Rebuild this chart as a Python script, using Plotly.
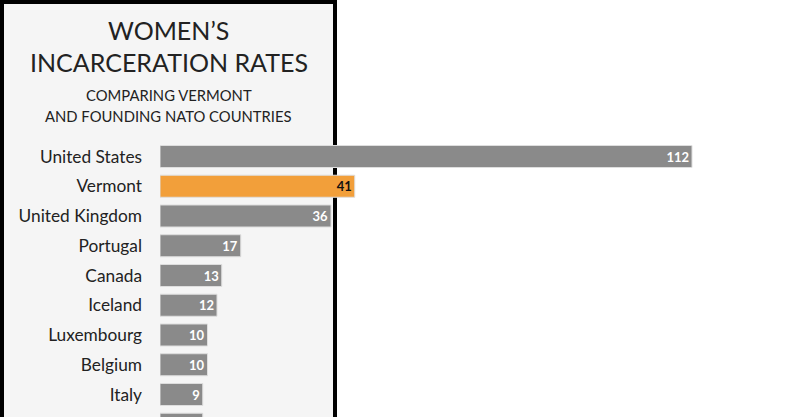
import plotly.graph_objects as go

countries = ["United States", "Vermont", "United Kingdom", "Portugal", "Canada",
             "Iceland", "Luxembourg", "Belgium", "Italy", "Norway"]
rates = [112, 41, 36, 17, 13, 12, 10, 10, 9, 9]

GRAY = "#8a8a8a"
ORANGE = "#f29f3a"
colors = [ORANGE if c == "Vermont" else GRAY for c in countries]
text_colors = ["#111111" if c == "Vermont" else "#ffffff" for c in countries]

W, H = 800, 417
L = 160
px_per_unit = 4.75
row_px = 29.75
first_row_px = 156.5

ypos = list(range(len(countries)))

fig = go.Figure()
fig.add_trace(go.Bar(
    x=rates, y=ypos, orientation="h",
    marker=dict(color=colors, line=dict(color="#dedede", width=1)),
    width=0.74,
    text=[str(r) for r in rates],
    textposition="inside", insidetextanchor="end",
    textangle=0,
    textfont=dict(family="Lato", size=13, color=text_colors, weight="bold"),
    cliponaxis=False,
    hoverinfo="skip",
))

# box panel
def px_to_paper_x(px):
    return (px - L) / (W - L)

fig.add_shape(type="rect", xref="paper", yref="paper",
              x0=px_to_paper_x(2), x1=px_to_paper_x(335),
              y0=-0.2, y1=1 - 2 / H,
              fillcolor="#f5f5f5", line=dict(color="#000000", width=4),
              layer="below")

cx = px_to_paper_x(168.5)
def py(p):
    return 1 - p / H

title_font = dict(family="Lato", size=25, color="#222222")
sub_font = dict(family="Lato", size=14.8, color="#222222")
fig.add_annotation(text="WOMEN’S", x=cx, y=py(30), xref="paper", yref="paper",
                   showarrow=False, xanchor="center", yanchor="middle", font=title_font)
fig.add_annotation(text="INCARCERATION RATES", x=cx, y=py(62), xref="paper", yref="paper",
                   showarrow=False, xanchor="center", yanchor="middle", font=title_font)
fig.add_annotation(text="COMPARING VERMONT", x=cx, y=py(95), xref="paper", yref="paper",
                   showarrow=False, xanchor="center", yanchor="middle", font=sub_font)
fig.add_annotation(text="AND FOUNDING NATO COUNTRIES", x=cx, y=py(116), xref="paper", yref="paper",
                   showarrow=False, xanchor="center", yanchor="middle", font=sub_font)

fig.update_layout(
    width=W, height=H,
    margin=dict(l=L, r=0, t=0, b=0),
    paper_bgcolor="#ffffff", plot_bgcolor="rgba(0,0,0,0)",
    showlegend=False,
    xaxis=dict(range=[0, (W - L) / px_per_unit], visible=False, fixedrange=True),
    yaxis=dict(range=[(H - first_row_px) / row_px, -first_row_px / row_px],
               tickvals=ypos, ticktext=countries, showgrid=False, zeroline=False,
               showline=False, ticks="", ticklabelstandoff=17,
               tickfont=dict(family="Lato", size=17.3, color="#222222"),
               fixedrange=True),
    uniformtext=dict(mode=False),
)

fig.write_html("out.html",
               config={"displayModeBar": False},
               post_script="document.body.style.margin='0px';document.body.style.padding='0px';")
